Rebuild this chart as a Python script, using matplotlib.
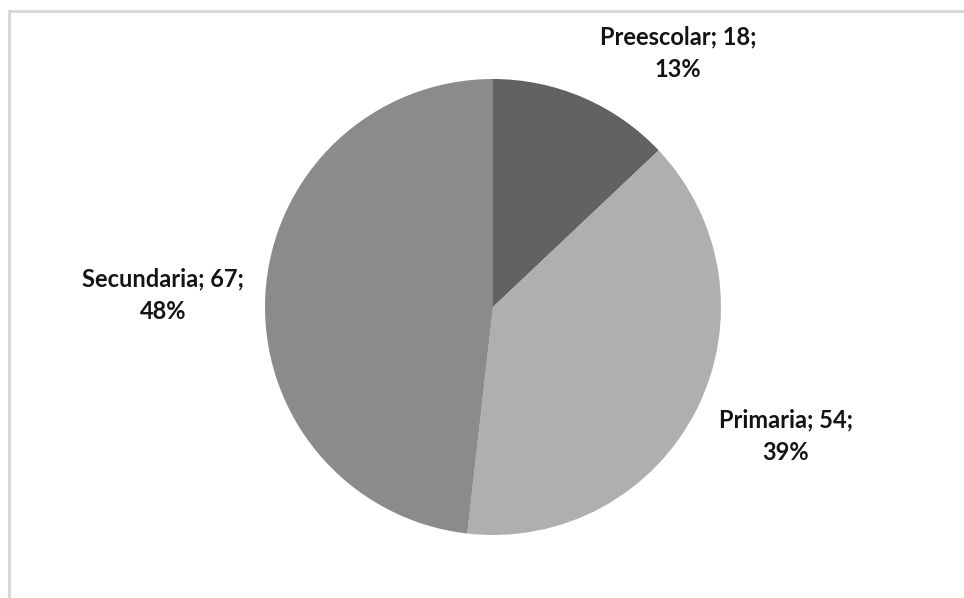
import matplotlib.pyplot as plt
from matplotlib.patches import Rectangle

categories = ["Preescolar", "Primaria", "Secundaria"]
values = [18, 54, 67]
colors = ["#626262", "#afafaf", "#8b8b8b"]

W, H, DPI = 964, 598, 100
fig = plt.figure(figsize=(W / DPI, H / DPI), dpi=DPI)
fig.patch.set_facecolor("white")

# chart-area frame (top and left edges visible)
fig.add_artist(Rectangle((9 / W, -0.05), 1.2, (H - 11) / H + 0.05,
                         transform=fig.transFigure, fill=False,
                         edgecolor="#d6d6d6", linewidth=2.0))

cx, cy, r = 493, 307, 228
ax = fig.add_axes([(cx - r) / W, (H - cy - r) / H, 2 * r / W, 2 * r / H])
ax.pie(values, colors=colors, startangle=90, counterclock=False,
       wedgeprops=dict(linewidth=0))
ax.set_xlim(-1, 1)
ax.set_ylim(-1, 1)
ax.set_aspect("auto")
ax.axis("off")

total = sum(values)
label_pos = {"Preescolar": (678, 53), "Primaria": (786, 436), "Secundaria": (163, 295)}
for name, v in zip(categories, values):
    px, py = label_pos[name]
    pct = round(100 * v / total)
    fig.text(px / W, 1 - py / H, f"{name}; {v};\n{pct}%", ha="center", va="center",
             fontsize=17, fontweight="bold", family="Lato", color="#141414",
             linespacing=1.5)

fig.savefig("out.png", dpi=DPI, facecolor="white")
